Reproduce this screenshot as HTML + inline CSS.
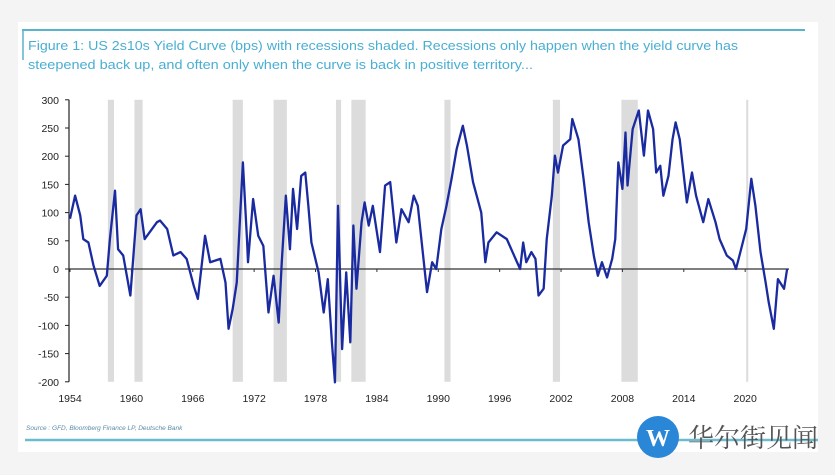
<!DOCTYPE html>
<html><head><meta charset="utf-8"><style>
body{margin:0;width:835px;height:470px;background:#f4f4f4;overflow:hidden;font-family:"Liberation Sans",sans-serif}
</style></head><body>
<svg width="835" height="470" viewBox="0 0 835 470">
<rect x="18" y="22" width="800" height="430" fill="#fff"/>
<line x1="22" y1="30" x2="805" y2="30" stroke="#5ab3cc" stroke-width="2"/>
<line x1="23" y1="30" x2="23" y2="60" stroke="#5ab3cc" stroke-width="1.5"/>
<text x="28" y="50" font-size="13" fill="#4aaed3" textLength="710" lengthAdjust="spacingAndGlyphs">Figure 1: US 2s10s Yield Curve (bps) with recessions shaded. Recessions only happen when the yield curve has</text>
<text x="28" y="69" font-size="13" fill="#4aaed3" textLength="505" lengthAdjust="spacingAndGlyphs">steepened back up, and often only when the curve is back in positive territory...</text>
<g id="rec"></g><g id="axes"></g><g id="plot"></g>
<text x="26" y="430" font-size="6.5" font-style="italic" fill="#5a8aa8">Source : GFD, Bloomberg Finance LP, Deutsche Bank</text>
<line x1="25" y1="440" x2="818" y2="440" stroke="#6cbccf" stroke-width="2.5"/>
<circle cx="658" cy="437" r="21" fill="#2a86d6"/>
<text x="658" y="446" font-size="24" font-weight="bold" fill="#fff" text-anchor="middle" font-family="Liberation Serif,serif">W</text>
<text x="688" y="447" font-size="26" fill="#555" font-family="'Liberation Serif','Noto Serif CJK SC',serif">华尔街见闻</text>
</svg>
<script>
const years=[1954.0,1954.5,1955.0,1955.3,1955.8,1956.3,1956.9,1957.6,1957.9,1958.4,1958.7,1959.2,1959.9,1960.2,1960.5,1960.9,1961.3,1962.5,1962.8,1963.5,1964.1,1964.8,1965.4,1966.1,1966.5,1967.2,1967.7,1968.7,1969.2,1969.5,1969.9,1970.3,1970.6,1970.9,1971.3,1971.4,1971.9,1972.4,1972.9,1973.4,1973.9,1974.4,1974.7,1975.1,1975.5,1975.8,1976.2,1976.6,1977.0,1977.3,1977.6,1978.3,1978.8,1979.2,1979.6,1979.9,1980.2,1980.6,1981.0,1981.4,1981.7,1982.0,1982.5,1982.8,1983.2,1983.6,1984.3,1984.8,1985.3,1985.9,1986.4,1987.1,1987.6,1988.0,1988.9,1989.4,1989.8,1990.3,1990.8,1991.3,1991.8,1992.4,1992.8,1993.4,1994.2,1994.6,1994.9,1995.7,1996.7,1997.7,1998.0,1998.3,1998.6,1999.1,1999.5,1999.8,2000.3,2000.6,2001.1,2001.4,2001.7,2002.2,2002.9,2003.1,2003.7,2004.2,2004.7,2005.2,2005.6,2006.0,2006.5,2007.0,2007.3,2007.6,2008.0,2008.3,2008.5,2009.0,2009.6,2010.1,2010.5,2011.0,2011.3,2011.7,2012.0,2012.5,2012.9,2013.2,2013.6,2014.3,2014.8,2015.2,2015.9,2016.4,2017.1,2017.5,2018.2,2018.8,2019.1,2019.6,2020.1,2020.6,2021.0,2021.5,2022.0,2022.3,2022.8,2023.2,2023.8,2024.1];
const spread=[89,130,95,53,47,6,-30,-12,53,139,35,24,-47,24,95,106,53,83,86,71,24,30,18,-30,-53,59,12,18,-24,-106,-71,-24,83,189,53,12,124,59,41,-77,-12,-95,12,130,35,142,71,165,171,112,47,-6,-77,-18,-130,-201,112,-142,-6,-130,77,-35,83,118,77,112,30,148,154,47,106,83,130,112,-41,12,0,71,112,160,213,254,219,154,100,12,47,65,53,12,0,47,12,30,18,-47,-35,53,130,201,171,219,230,266,230,160,83,24,-12,12,-15,18,53,189,142,242,148,248,281,201,281,248,171,183,130,165,230,260,230,118,171,130,83,124,83,53,24,15,0,35,71,160,112,30,-24,-59,-106,-18,-35,0];
const recStart=[1957.7,1960.3,1969.9,1973.9,1980.0,1981.5,1990.6,2001.2,2007.9,2020.1];
const recEnd=[1958.3,1961.1,1970.9,1975.2,1980.5,1982.9,1991.2,2001.9,2009.5,2020.3];
const yTicks=[300,250,200,150,100,50,0,-50,-100,-150,-200];
const xTicks=[1954,1960,1966,1972,1978,1984,1990,1996,2002,2008,2014,2020];
const NS="http://www.w3.org/2000/svg";
const X=y=>70+(y-1954)*10.23, Y=v=>269-v*28.2/50;
function mk(t,a,p){const e=document.createElementNS(NS,t);for(const k in a)e.setAttribute(k,a[k]);p.appendChild(e);return e;}
const rec=document.getElementById('rec'),ax=document.getElementById('axes'),pl=document.getElementById('plot');
recStart.forEach((s,i)=>{const r=mk('rect',{x:X(s),y:Y(300),width:Math.max(1.5,X(recEnd[i])-X(s)),height:Y(-200)-Y(300),fill:'#dcdcdc'},rec);

});
const ya=mk('line',{x1:69,y1:Y(300),x2:69,y2:Y(-200),stroke:'#222','stroke-width':1.2},ax);


yTicks.forEach(v=>{mk('line',{x1:65,y1:Y(v),x2:69,y2:Y(v),stroke:'#222'},ax);
const t=mk('text',{x:59,y:Y(v)+4,'font-size':10.5,fill:'#222','text-anchor':'end'},ax);t.textContent=v;

});
const za=mk('line',{x1:69,y1:Y(0),x2:789,y2:Y(0),stroke:'#333','stroke-width':1.2},ax);


xTicks.forEach(v=>{mk('line',{x1:X(v),y1:Y(0),x2:X(v),y2:Y(0)+3,stroke:'#333'},ax);
const t=mk('text',{x:X(v),y:402,'font-size':10.5,fill:'#222','text-anchor':'middle'},ax);t.textContent=v;

});
const p=mk('polyline',{points:years.map((y,i)=>X(y)+','+Y(spread[i])).join(' '),fill:'none',stroke:'#1a2aa0','stroke-width':2.3,'stroke-linejoin':'round'},pl);


</script>
</body></html>
